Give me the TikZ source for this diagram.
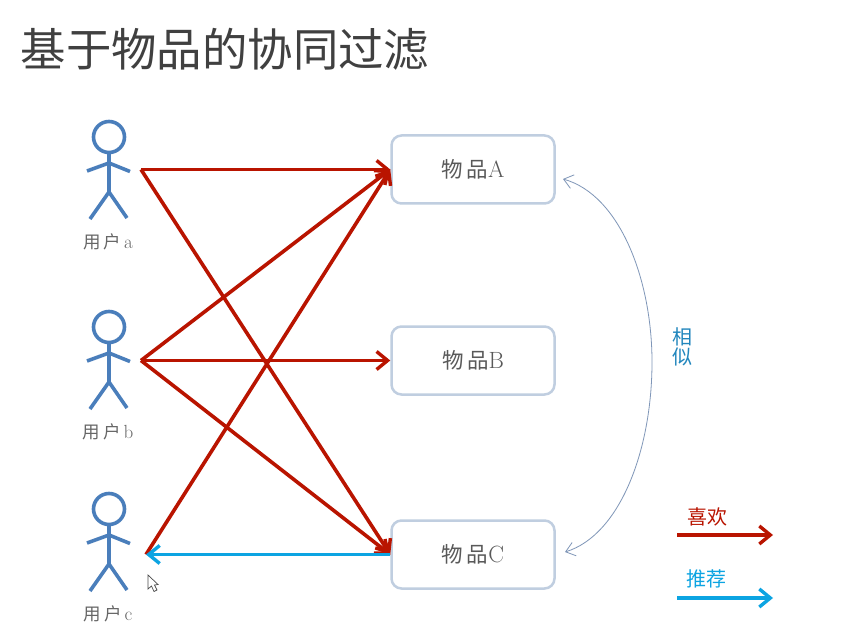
\documentclass[tikz,border=0pt]{standalone}
\usepackage{fontspec}
\usepackage{xcolor}
\usetikzlibrary{arrows.meta}
\newfontfamily\cjk{Noto Sans CJK SC}
\definecolor{likered}{HTML}{B91400}
\definecolor{recblue}{HTML}{0CA4E2}
\definecolor{manblue}{HTML}{4A7EBB}
\definecolor{boxblue}{HTML}{C0CEE0}
\definecolor{simblue}{HTML}{7F96B8}
\tikzset{
    item-box/.style = {draw=boxblue, fill=white, line width=2.5pt, rectangle, rounded corners=10pt, minimum width=163pt, minimum height=68pt, inner sep=0pt, text=black!65, font=\fontsize{23.5pt}{24pt}\selectfont},
    user-label/.style = {text=black!60, font=\fontsize{19pt}{20pt}\selectfont, inner sep=0pt},
    like-arrow/.style = {draw=likered, line width=3.6pt, -{Straight Barb[length=11pt,width=18pt,line width=3.4pt]}},
    rec-arrow/.style = {draw=recblue, line width=3.6pt, -{Straight Barb[length=11pt,width=18pt,line width=3.4pt]}},
    sim-arrow/.style = {draw=simblue, line width=0.8pt, {Straight Barb[length=9pt,width=14pt,line width=0.8pt]}-{Straight Barb[length=9pt,width=14pt,line width=0.8pt]}},
    legend-label/.style = {inner sep=0pt, font=\cjk\fontsize{20pt}{22pt}\selectfont},
    person/.pic = {
        \draw[manblue, line width=3.6pt] (0,0) circle (15.5pt);
        \draw[manblue, line width=3.6pt] (0,15.5) -- (0,55) (-22,34) -- (0,26) -- (21,34.5) (-19,82) -- (0,55) -- (18,81);
    },
}

\begin{document}
\begin{tikzpicture}[x=1pt,y=-1pt]
\useasboundingbox (0,0) rectangle (866,636);
\fill[white] (0,0) rectangle (866,636);

\node[inner sep=0pt, anchor=west, text=black!75, font=\cjk\fontsize{45.4pt}{50pt}\selectfont] (title) at (20.5,49) {基于物品的协同过滤};

% users
\pic at (109,137) {person};
\pic at (109,327) {person};
\pic at (109,509) {person};
\node[user-label] (labela) at (108,242) {{\cjk\fontsize{17.5pt}{20pt}\selectfont 用\,户}\,a};
\node[user-label] (labelb) at (108,432) {{\cjk\fontsize{17.5pt}{20pt}\selectfont 用\,户}\,b};
\node[user-label] (labelc) at (108,614) {{\cjk\fontsize{17.5pt}{20pt}\selectfont 用\,户}\,c};
\coordinate (usera) at (141,169.5);
\coordinate (userb) at (141,360.5);
\coordinate (userc) at (146,554.5);

% items
\node[item-box] (itema) at (473,169.5) {\raisebox{-1pt}{{\cjk\fontsize{21.5pt}{24pt}\selectfont 物\,品}A}};
\node[item-box] (itemb) at (473,360.5) {\raisebox{-1pt}{{\cjk\fontsize{21.5pt}{24pt}\selectfont 物\,品}B}};
\node[item-box] (itemc) at (473,554.5) {\raisebox{-1pt}{{\cjk\fontsize{21.5pt}{24pt}\selectfont 物\,品}C}};

% likes
\draw[like-arrow] (usera) -- (itema.west);
\draw[like-arrow] (usera) -- (itemc.west);
\draw[like-arrow] (userb) -- (itema.west);
\draw[like-arrow] (userb) -- (itemb.west);
\draw[like-arrow] (userb) -- (itemc.west);
\draw[like-arrow] (userc) -- (itema.west);
\draw[rec-arrow] (itemc.west) -- (userc);

% similar
\coordinate (simtop) at (563,179);
\coordinate (simbot) at (565,552);
\draw[sim-arrow] (simtop) .. controls (620,195) and (652,280) .. (652,362) .. controls (652,450) and (620,535) .. (simbot);
\node[align=center, inner sep=0pt, text=recblue!60!manblue!90!black, font=\cjk\fontsize{20pt}{20pt}\selectfont] (simlabel) at (682,347) {相\\似};

% legend
\coordinate (likefrom) at (677,535);
\coordinate (liketo) at (773,535);
\coordinate (recfrom) at (677,598);
\coordinate (recto) at (773,598);
\node[legend-label, text=likered] (likelabel) at (707,517) {喜欢};
\node[legend-label, text=recblue] (reclabel) at (706,579) {推荐};
\draw[like-arrow] (likefrom) -- (liketo);
\draw[rec-arrow] (recfrom) -- (recto);

% mouse cursor
\draw[black!70, fill=white, line width=0.7pt] (148,575) -- (148,589) -- (151.5,586) -- (154,591.5) -- (157,590) -- (154.5,585) -- (158,584.5) -- cycle;
\end{tikzpicture}
\end{document}
